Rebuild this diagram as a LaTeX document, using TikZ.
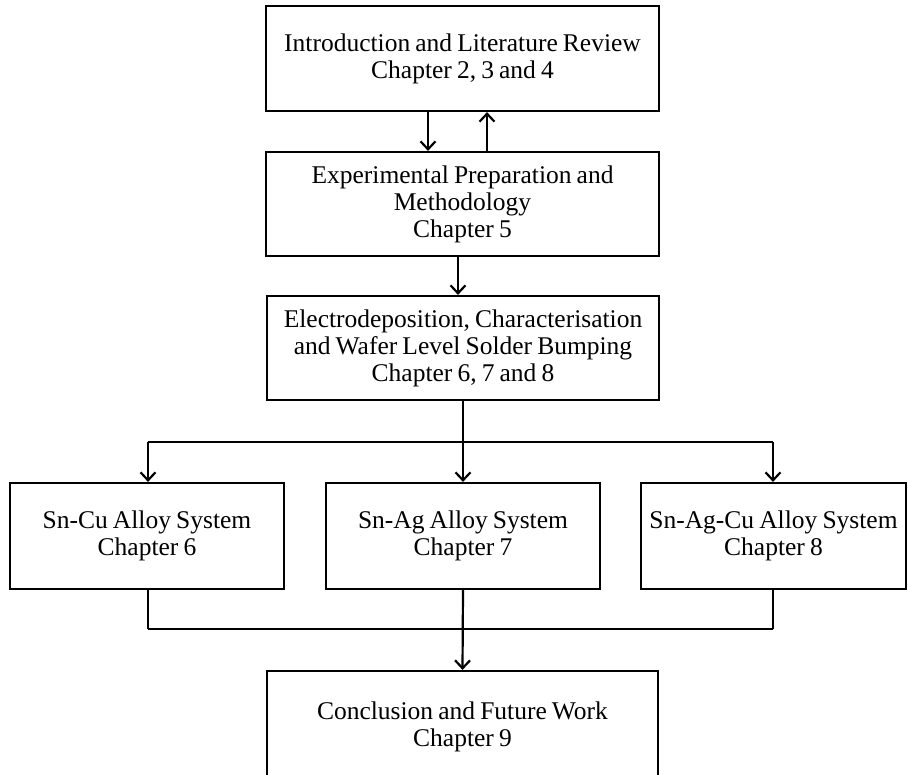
\documentclass[tikz,border=0pt]{standalone}
\usepackage{fontspec}
\setmainfont[WordSpace=0.8]{Liberation Serif}
\usetikzlibrary{arrows.meta}
\tikzset{
  box/.style={draw=black, line width=2.2pt, align=center, inner sep=0pt,
    font=\fontsize{25.5}{27}\selectfont},
  conn/.style={draw=black, line width=2.2pt},
  arr/.style={conn, -{Straight Barb[length=8pt,width=15pt,line width=2.2pt]}}
}
\begin{document}
\begin{tikzpicture}[x=1pt,y=-1pt]
\useasboundingbox (0,0) rectangle (908,775);
\clip (0,0) rectangle (908,775);
\node[box, minimum width=393pt, minimum height=105pt] (b1) at (462.5,58.5)
  {Introduction and Literature Review\\Chapter 2, 3 and 4};
\node[box, minimum width=393pt, minimum height=104pt] (b2) at (462.5,204)
  {Experimental Preparation and\\Methodology\\Chapter 5};
\node[box, minimum width=392pt, minimum height=104pt] (b3) at (463,348)
  {Electrodeposition, Characterisation\\and Wafer Level Solder Bumping\\Chapter 6, 7 and 8};
\node[box, minimum width=274pt, minimum height=106pt] (b6) at (147,536)
  {Sn-Cu Alloy System\\Chapter 6};
\node[box, minimum width=274pt, minimum height=106pt] (b7) at (463,536)
  {Sn-Ag Alloy System\\Chapter 7};
\node[box, minimum width=265pt, minimum height=106pt] (b8) at (773.5,536)
  {Sn-Ag-Cu Alloy System\\Chapter 8};
\node[box, minimum width=391pt, minimum height=112pt] (b5) at (462.5,727)
  {Conclusion and Future Work\\Chapter 9};
% between box 1 and 2
\draw[arr] ([xshift=-34.5pt]b1.south) -- ([xshift=-34.5pt]b1.south |- b2.north);
\draw[arr] ([xshift=24.5pt]b2.north) -- ([xshift=24.5pt]b2.north |- b1.south);
\draw[arr] ([xshift=-4.5pt]b2.south) -- ([xshift=-4.5pt]b2.south |- b3.north);
% split
\coordinate (j1) at (463,442);
\coordinate (j1l) at (148,442);
\coordinate (j1r) at (773,442);
\draw[conn] (b3.south) -- (j1);
\draw[conn] (j1l) -- (j1r);
\draw[arr] (j1l) -- (j1l |- b6.north);
\draw[arr] (j1) -- (b7.north);
\draw[arr] (j1r) -- (j1r |- b8.north);
% merge
\coordinate (j2) at (463,629);
\coordinate (j2l) at (148,629);
\coordinate (j2r) at (773,629);
\draw[conn] (b6.south -| j2l) -- (j2l);
\draw[conn] (b8.south -| j2r) -- (j2r);
\draw[conn] (j2l) -- (j2r);
\draw[arr] (b7.south) -- (b5.north);
\end{tikzpicture}
\end{document}
